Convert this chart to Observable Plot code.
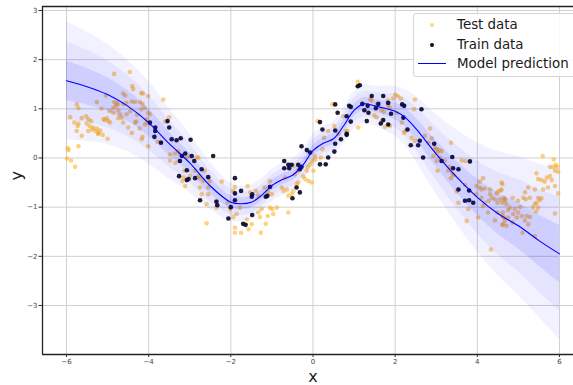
<!DOCTYPE html>
<html><head><meta charset="utf-8">
<script src="https://cdn.jsdelivr.net/npm/d3@7"></script>
<script src="https://cdn.jsdelivr.net/npm/@observablehq/plot@0.6"></script>
<style>
body{margin:0;background:#fff;font-family:"DejaVu Sans",sans-serif;}
#wrap{position:relative;width:573px;height:385px;overflow:hidden;}
#wrap svg{display:block;}
.lg-box{position:absolute;left:413px;top:13px;width:175px;height:64px;border:1px solid #d5d5d5;border-radius:3px;background:rgba(255,255,255,0.85);box-sizing:border-box;}
.lg-text{position:absolute;left:457px;font-size:13.4px;line-height:16px;color:#1a1a1a;white-space:nowrap;}
.lg-dot{position:absolute;width:4px;height:4px;border-radius:50%;}
.lg-line{position:absolute;left:418px;width:28px;height:1.3px;background:#0000ff;}
</style>
</head><body>
<div id="wrap"></div>
<script>
// Axis limits and ticks
const xLimits = [-6.584, 6.341];
const yLimits = [-3.997, 3.081];
const xTicks = [-6, -4, -2, 0, 2, 4, 6];
const yTicks = [-3, -2, -1, 0, 1, 2, 3];

// Model prediction (mean and standard deviation)
const predX = [-6,-5.5,-5,-4.5,-4,-3.5,-3,-2.5,-2,-1.75,-1.5,-1.25,-1,-0.75,-0.5,-0.25,0,0.25,0.5,0.75,1,1.25,1.5,1.75,2,2.25,2.5,3,3.5,4,4.5,5,5.5,6];
const predMean = [1.57,1.45,1.29,1.05,0.72,0.29,-0.10,-0.57,-0.90,-0.93,-0.90,-0.76,-0.56,-0.44,-0.35,-0.15,0.15,0.30,0.39,0.66,0.97,1.10,1.06,1.01,0.95,0.82,0.60,0.08,-0.39,-0.80,-1.13,-1.38,-1.68,-1.95];
const predStd = [0.40,0.37,0.34,0.31,0.28,0.24,0.20,0.16,0.13,0.12,0.115,0.11,0.11,0.11,0.11,0.11,0.11,0.11,0.115,0.12,0.125,0.13,0.135,0.15,0.17,0.19,0.22,0.27,0.32,0.37,0.42,0.47,0.52,0.58];

// Test data
const testX = [-4.84,-4.46,-4.40,-4.38,-4.18,-4.14,-4.62,-4.57,-5.04,-5.26,-5.75,-5.71,-4.84,-4.78,-4.75,-4.80,-4.62,-4.54,-4.41,-4.33,-4.21,-4.15,-4.18,-4.10,-4.86,-4.86,-4.74,-4.70,-4.66,-4.74,-4.54,-4.62,-4.33,-4.30,-4.41,-4.15,-4.17,-4.09,-5.91,-5.81,-5.71,-5.73,-5.63,-5.52,-5.51,-5.47,-5.40,-5.44,-5.38,-5.35,-5.30,-5.26,-5.22,-5.23,-5.18,-5.47,-5.63,-5.75,-5.10,-5.06,-5.02,-4.98,-4.94,-5.12,-5.00,-5.97,-5.95,-5.71,-5.99,-5.89,-5.79,-4.45,-4.28,-4.22,-4.50,-4.95,-5.15,
-4.01,-3.64,-4.01,-3.97,-4.05,-4.05,-3.97,-3.50,-3.60,-4.01,-3.78,-3.70,-3.48,-3.36,-3.28,-3.24,-3.48,-3.35,-3.24,-3.07,-2.99,-3.13,-3.15,-3.18,-3.11,-2.99,-2.83,-2.79,-2.87,-2.79,-2.75,-2.63,-2.75,-2.67,-2.51,-2.55,-2.22,-2.71,-2.55,-2.59,-2.35,-2.35,-2.08,-2.02,-1.94,-2.59,-1.90,-1.90,-1.90,-1.94,
-1.59,-1.53,-1.39,-1.33,-1.18,-1.09,-1.00,-0.99,-0.97,-1.10,-1.29,-1.33,-0.88,-1.05,-1.25,-1.15,-1.27,-1.49,-1.57,-1.75,-1.86,-1.78,-1.61,-0.60,-0.76,-0.72,-0.64,-0.60,-0.52,-0.48,-0.40,-0.36,-0.68,-1.05,-1.02,-0.44,-0.37,-0.48,-0.32,-0.24,-0.19,-0.11,-0.03,0.01,-0.15,-0.13,-0.07,-0.02,0.05,0.05,0.11,0.19,0.23,0.27,
1.09,0.47,0.74,0.37,0.52,0.80,0.84,1.10,0.62,1.39,1.43,1.55,1.49,1.55,1.67,1.73,1.82,1.83,1.87,1.67,1.75,1.85,1.87,1.95,2.00,2.06,2.14,2.04,2.16,2.22,2.24,2.40,2.46,2.48,
2.48,2.85,2.72,2.81,2.89,2.97,3.01,3.07,3.13,3.03,3.09,3.36,2.93,3.01,3.03,3.21,3.29,3.33,3.39,3.44,3.36,3.62,3.71,3.70,3.50,3.54,3.78,3.74,4.02,3.98,4.06,4.10,4.18,4.31,4.14,4.06,3.98,4.10,4.31,4.36,4.28,4.18,4.47,4.51,4.43,4.49,4.61,4.57,4.55,4.61,4.67,4.26,4.43,4.61,4.61,4.67,4.49,4.14,4.33,
5.59,5.86,5.77,5.85,5.91,5.94,5.89,5.97,5.44,5.48,5.56,5.64,5.60,5.72,5.77,5.81,5.89,5.69,5.40,5.24,5.16,5.12,5.28,5.18,5.48,5.52,5.56,5.44,5.40,5.35,5.48,5.43,4.86,4.99,5.04,4.79,4.91,4.99,4.87,5.08,5.20,5.28,5.16,5.24,4.59,4.59,4.65,4.67,4.71,4.75,4.62,4.65,4.75,4.63,4.71,4.86,4.96,5.10,5.40,5.89,5.97];
const testY = [1.71,1.75,1.46,1.40,1.32,1.31,1.31,1.27,1.27,1.14,1.09,1.01,1.14,1.12,1.09,1.06,1.10,1.12,1.15,1.14,1.14,1.10,0.99,1.02,1.02,0.92,0.97,0.89,0.82,0.81,0.89,0.72,0.72,0.74,0.51,0.43,0.38,0.68,0.83,0.72,0.70,0.65,0.81,0.85,0.70,0.79,0.75,0.65,0.58,0.62,0.55,0.60,0.51,0.49,0.56,0.55,0.45,0.55,0.79,0.77,0.81,0.75,0.72,0.47,0.39,0.20,0.16,0.24,-0.01,-0.05,-0.18,0.95,0.88,0.60,0.62,0.95,1.00,
1.26,1.19,0.92,0.89,0.79,0.72,0.68,0.83,0.74,0.24,0.33,0.33,0.07,0.09,0.14,0.07,-0.05,-0.10,-0.06,0.01,0.04,-0.26,-0.40,-0.47,-0.57,-0.37,0.01,0.01,-0.26,-0.37,-0.41,-0.26,-0.60,-0.47,-0.47,-0.60,-0.48,-0.74,-0.74,-0.94,-0.87,-1.01,-0.91,-1.04,-1.20,-1.33,-1.42,-1.52,-0.59,-0.67,
-0.57,-0.70,-0.67,-0.77,-0.60,-0.70,-0.74,-1.04,-1.14,-1.18,-1.20,-1.11,-1.01,-1.01,-1.04,-1.34,-1.52,-1.35,-1.45,-1.52,-1.14,-1.01,-1.25,-1.11,-0.60,-0.67,-0.64,-0.77,-0.74,-0.68,-0.53,-0.50,-0.40,-0.47,-0.57,-0.33,-0.26,-0.16,-0.20,-0.37,-0.43,-0.47,-0.50,-0.26,-0.26,-0.18,-0.13,-0.06,-0.03,0.04,0.75,0.01,0.18,0.41,
1.55,1.09,0.85,0.55,0.65,0.55,0.55,0.62,0.49,1.19,1.17,1.09,0.87,0.83,0.97,0.94,1.17,1.06,1.02,0.74,0.63,0.67,0.65,1.21,1.29,1.26,1.21,0.92,0.72,0.51,0.55,0.41,0.99,0.35,
1.19,0.60,0.45,0.31,0.40,0.20,0.18,0.16,0.14,0.11,0.01,0.31,0.04,-0.06,-0.26,-0.06,-0.26,-0.18,-0.32,-0.35,-0.41,-0.05,-0.06,-0.55,-0.68,-0.91,-1.04,-1.28,-1.21,-0.57,-0.60,-0.64,-0.62,-0.64,-0.41,-0.48,-0.74,-0.81,-0.74,-0.81,-0.87,-0.91,-0.72,-0.68,-0.84,-0.91,-0.53,-0.66,-0.84,-0.91,-0.84,-1.11,-1.27,-1.18,-1.36,-1.28,-1.11,-0.98,-1.86,
0.04,-0.03,-0.18,-0.18,-0.14,-0.18,-0.26,-0.28,-0.31,-0.43,-0.45,-0.48,-0.64,-0.60,-0.37,-0.45,-0.57,-0.40,-0.64,-0.60,-0.70,-0.81,-0.81,-0.84,-0.81,-0.86,-0.82,-0.91,-0.94,-1.01,-1.01,-1.09,-0.81,-0.87,-1.00,-1.01,-1.04,-1.11,-1.14,-1.18,-1.18,-1.20,-1.27,-1.35,-0.50,-0.64,-0.81,-0.87,-0.94,-1.06,-1.11,-1.21,-1.21,-1.35,-1.38,-1.31,-1.21,-1.52,-1.59,-1.13,-0.72];

// Train data
const trainX = [-3.97,-3.54,-3.50,-3.84,-3.84,-3.86,-3.70,-3.44,-3.32,-3.22,-2.98,-3.19,-3.11,-2.95,-3.24,-2.43,-2.89,-2.71,-3.07,-3.26,-3.07,-3.03,-2.87,-2.55,-2.75,-2.35,-2.33,-1.90,-1.90,-2.00,-2.06,-1.75,-1.90,-1.48,-1.70,-1.64,-1.05,-1.15,-1.11,-1.49,-1.48,-0.70,-0.60,-0.52,-0.70,-0.58,-0.36,-0.28,-0.32,-0.28,-0.40,-0.32,-0.50,-0.15,-0.07,0.17,0.23,0.17,0.31,1.09,1.14,0.54,0.60,0.88,0.92,0.82,0.54,0.92,0.82,0.82,0.68,0.54,0.52,0.37,1.20,1.33,1.43,1.25,1.35,1.53,1.31,1.71,1.83,1.59,1.71,1.65,1.90,2.17,2.22,2.20,2.30,2.38,1.83,2.64,2.60,2.56,2.68,2.95,3.13,3.39,3.41,3.54,3.82,3.54,3.80,3.70,3.80,3.90];
const trainY = [0.72,0.75,0.62,0.62,0.55,0.43,0.31,0.38,0.36,0.40,0.37,0.04,0.09,0.04,-0.06,0.04,-0.06,-0.23,-0.25,-0.37,-0.45,-0.43,-0.41,-0.39,-0.86,-0.89,-0.96,-0.41,-0.72,-1.00,-1.23,-0.67,-0.86,-1.16,-1.34,-1.36,-0.59,-0.79,-0.77,-0.79,-0.74,-0.06,-0.14,-0.14,-0.21,-0.21,-0.14,0.24,-0.23,-0.18,-0.60,-0.70,-0.82,0.16,0.11,0.73,0.58,-0.13,-0.13,1.46,1.48,1.09,0.92,1.06,1.04,0.85,0.56,0.74,0.49,0.47,0.38,0.29,0.13,0.01,1.10,1.06,1.26,0.97,0.92,1.01,0.75,1.26,1.12,1.10,0.77,0.70,0.90,1.09,1.06,0.82,0.58,0.26,0.68,0.99,0.35,0.26,0.01,0.29,-0.06,0.02,-0.21,-0.23,-0.07,-0.64,-0.66,-0.87,-0.86,-0.91];

// Tables built from the arrays
const test = testX.map((x, i) => ({x, y: testY[i]}));
const train = trainX.map((x, i) => ({x, y: trainY[i]}));
const pred = predX.map((x, i) => {
  const m = predMean[i], s = predStd[i];
  return {x, mean: m, lo1: m - s, hi1: m + s, lo2: m - 2*s, hi2: m + 2*s, lo3: m - 3*s, hi3: m + 3*s};
});

const fmt = d => d < 0 ? "\u2212" + Math.abs(d) : String(d);
const curve = "catmull-rom";

const chart = Plot.plot({
  width: 573, height: 385,
  marginLeft: 42, marginRight: 0, marginTop: 6, marginBottom: 31,
  style: {fontFamily: "DejaVu Sans, sans-serif", background: "white", color: "#333"},
  x: {domain: xLimits},
  y: {domain: yLimits},
  marks: [
    Plot.gridX(xTicks, {stroke: "#d0d0d0", strokeOpacity: 1, strokeWidth: 1}),
    Plot.gridY(yTicks, {stroke: "#d0d0d0", strokeOpacity: 1, strokeWidth: 1}),
    Plot.dot(test, {x: "x", y: "y", r: 2.3, fill: "#ffa500", fillOpacity: 0.5, stroke: null}),
    Plot.dot(train, {x: "x", y: "y", r: 2.3, fill: "#0a0a22", fillOpacity: 0.92, stroke: null}),
    Plot.line(pred, {x: "x", y: "mean", stroke: "#0000ff", strokeWidth: 1.1, curve}),
    Plot.areaY(pred, {x: "x", y1: "lo3", y2: "hi3", fill: "#0000ff", fillOpacity: 0.055, curve}),
    Plot.areaY(pred, {x: "x", y1: "lo2", y2: "hi2", fill: "#0000ff", fillOpacity: 0.05, curve}),
    Plot.areaY(pred, {x: "x", y1: "lo1", y2: "hi1", fill: "#0000ff", fillOpacity: 0.095, curve}),
    Plot.ruleY(yLimits, {stroke: "#222", strokeWidth: 1.3}),
    Plot.ruleX([xLimits[0]], {stroke: "#222", strokeWidth: 1.3}),
    Plot.axisX(xTicks, {tickSize: 3, tickPadding: 2, fontSize: 7, tickFormat: fmt, label: null, stroke: "#333", fill: "#444"}),
    Plot.axisY(yTicks, {tickSize: 3.5, tickPadding: 1.5, fontSize: 7, tickFormat: fmt, label: null, stroke: "#333", fill: "#444"}),
    Plot.text(["x"], {x: () => 0, frameAnchor: "bottom", lineAnchor: "middle", dy: 22, text: d => d, fontSize: 16, fill: "#222"}),
    Plot.text(["y"], {frameAnchor: "left", dx: -26, rotate: -90, text: d => d, fontSize: 16, fill: "#222"})
  ]
});

const wrap = document.getElementById("wrap");
wrap.appendChild(chart);

// Legend (inside the axes, upper right)
const legendItems = [
  {label: "Test data", kind: "dot", color: "rgba(255,165,0,0.5)", cy: 24.5},
  {label: "Train data", kind: "dot", color: "#0a0a22", cy: 44.5},
  {label: "Model prediction", kind: "line", color: "#0000ff", cy: 63.5}
];
const box = document.createElement("div");
box.className = "lg-box";
wrap.appendChild(box);
for (const it of legendItems) {
  if (it.kind === "dot") {
    const d = document.createElement("div");
    d.className = "lg-dot";
    d.style.left = (432 - 2) + "px";
    d.style.top = (it.cy - 2) + "px";
    d.style.background = it.color;
    wrap.appendChild(d);
  } else {
    const l = document.createElement("div");
    l.className = "lg-line";
    l.style.top = (it.cy - 0.6) + "px";
    wrap.appendChild(l);
  }
  const t = document.createElement("div");
  t.className = "lg-text";
  t.style.top = (it.cy - 8) + "px";
  t.textContent = it.label;
  wrap.appendChild(t);
}
</script>
</body></html>
